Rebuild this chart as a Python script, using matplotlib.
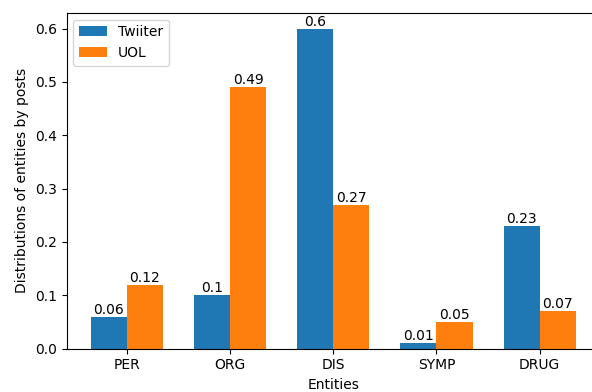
import matplotlib
matplotlib.use("Agg")
import matplotlib.pyplot as plt
import numpy as np

categories = ["PER", "ORG", "DIS", "SYMP", "DRUG"]
twitter = [0.06, 0.1, 0.6, 0.01, 0.23]
uol = [0.12, 0.49, 0.27, 0.05, 0.07]

fig = plt.figure(figsize=(5.92, 3.92), dpi=100)
ax = fig.add_axes([66.5 / 592, 43.5 / 392, (600 - 66.5) / 592, (392 - 43.5 - 12.7) / 392])

x = np.arange(len(categories))
w = 0.35
b1 = ax.bar(x - w / 2, twitter, w, label="Twiiter", color="#1f77b4")
b2 = ax.bar(x + w / 2, uol, w, label="UOL", color="#ff7f0e")
ax.bar_label(b1, padding=0)
ax.bar_label(b2, padding=0)
ax.set_xticks(x)
ax.set_xticklabels(categories)
ax.set_xlabel("Entities")
ax.set_ylabel("Distributions of entities by posts")
ax.legend(loc="upper left")

fig.savefig("out.png", dpi=100)
